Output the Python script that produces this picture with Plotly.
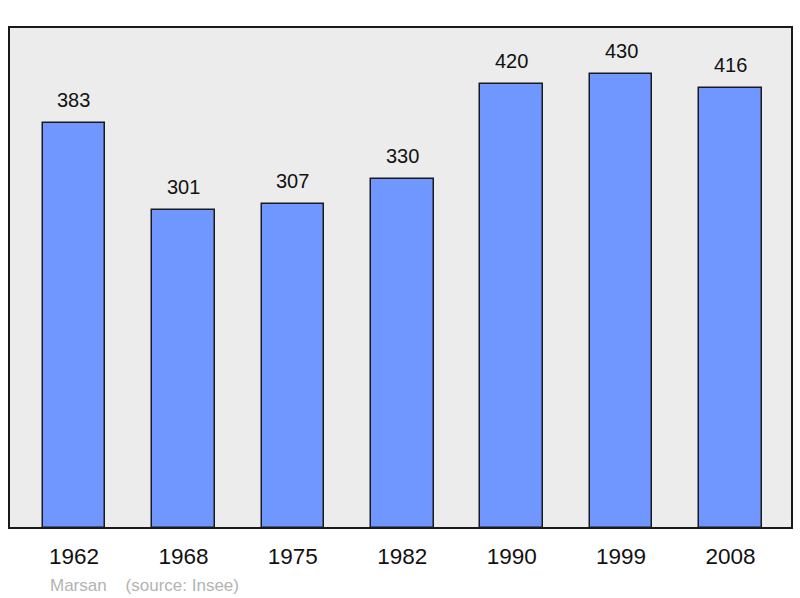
import plotly.graph_objects as go

years = ["1962", "1968", "1975", "1982", "1990", "1999", "2008"]
population = [383, 301, 307, 330, 420, 430, 416]
commune = "Marsan"
source = "(source: Insee)"

FONT = "Liberation Sans, Arial, sans-serif"

fig = go.Figure()
fig.add_trace(go.Bar(
    x=list(range(len(years))), y=population,
    width=0.572,
    marker=dict(color="#7097ff", line=dict(color="#1a1a1a", width=1.5)),
    hoverinfo="skip",
))

for i, v in enumerate(population):
    fig.add_annotation(x=i, y=v, text=str(v), showarrow=False,
                       yanchor="bottom", yshift=10,
                       font=dict(family=FONT, size=20, color="#111111"))

fig.add_annotation(xref="paper", yref="paper", x=0.0495, y=-0.092, xanchor="left", yanchor="top",
                   text=commune + "&nbsp;&nbsp;&nbsp;&nbsp;" + source, showarrow=False,
                   font=dict(family=FONT, size=17, color="#b3b3b3"))

fig.add_shape(type="rect", xref="paper", yref="paper", x0=0, x1=1, y0=0, y1=1,
              line=dict(color="#1a1a1a", width=2), layer="above")

fig.update_layout(
    width=800, height=598,
    margin=dict(l=9, r=8, t=27, b=70),
    paper_bgcolor="white", plot_bgcolor="#ececec",
    showlegend=False, bargap=0,
    xaxis=dict(range=[-0.594, 6.562], tickmode="array", tickvals=list(range(len(years))), ticktext=years,
               showgrid=False, zeroline=False, showline=False, fixedrange=True,
               ticks="outside", ticklen=8, tickcolor="rgba(0,0,0,0)",
               tickfont=dict(family=FONT, size=22.5, color="#111111")),
    yaxis=dict(range=[0, 474], visible=False, showgrid=False, zeroline=False, fixedrange=True),
)

fig.write_html("out.html", config={"displayModeBar": False},
               post_script="document.body.style.margin='0';document.body.style.overflow='hidden';")
